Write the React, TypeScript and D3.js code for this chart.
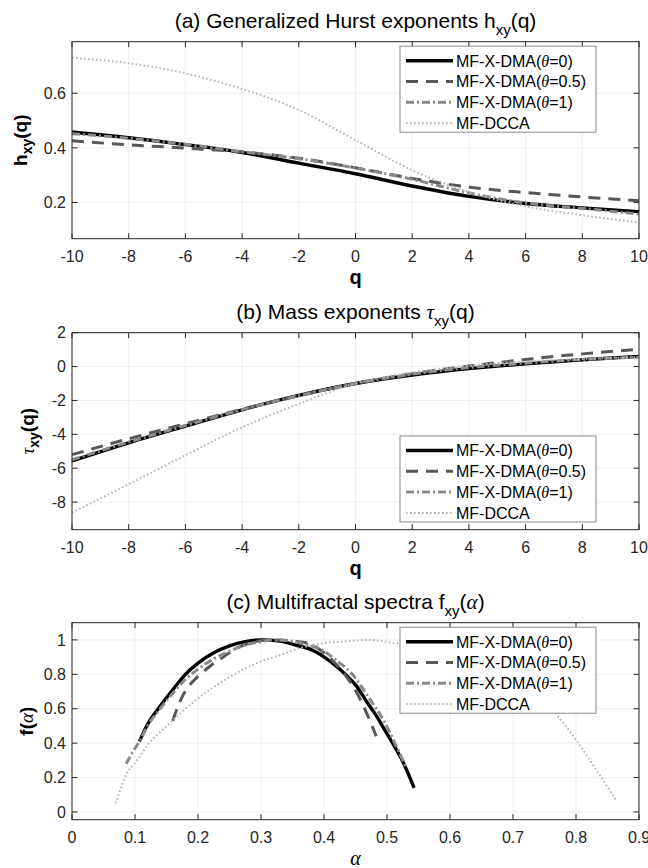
import React from "react";
import { scaleLinear, line, curveMonotoneX } from "d3";

// (a) + (b): q grid
const qValues = [-10, -8, -6, -4, -2, 0, 2, 4, 6, 8, 10];

// (a) generalized Hurst exponents h_xy(q)
const hDma0 = [0.458, 0.437, 0.412, 0.383, 0.344, 0.305, 0.26, 0.222, 0.196, 0.18, 0.166];
const hDma05 = [0.426, 0.411, 0.399, 0.385, 0.362, 0.327, 0.288, 0.256, 0.236, 0.22, 0.206];
const hDma1 = [0.452, 0.435, 0.413, 0.386, 0.36, 0.326, 0.285, 0.235, 0.198, 0.178, 0.157];
const hDcca = [0.73, 0.71, 0.673, 0.616, 0.539, 0.428, 0.318, 0.238, 0.186, 0.153, 0.126];

// (b) mass exponents tau_xy(q)
const tauDma0 = [-5.57, -4.5, -3.52, -2.55, -1.7, -1.0, -0.5, -0.12, 0.16, 0.4, 0.6];
const tauDma05 = [-5.2, -4.26, -3.38, -2.52, -1.72, -1.0, -0.42, 0.03, 0.42, 0.75, 1.02];
const tauDma1 = [-5.5, -4.46, -3.48, -2.54, -1.72, -1.0, -0.45, -0.06, 0.2, 0.42, 0.55];
const tauDcca = [-8.63, -6.94, -5.24, -3.58, -2.2, -1.0, -0.35, 0.06, 0.3, 0.45, 0.56];

// (c) multifractal spectra, (alpha, f) pairs
const alphaDma0 = [0.107, 0.12, 0.139, 0.16, 0.18, 0.2, 0.225, 0.25, 0.275, 0.3, 0.33, 0.355, 0.382, 0.41, 0.435, 0.452, 0.467, 0.483, 0.498, 0.512, 0.525, 0.543];
const fDma0 = [0.41, 0.51, 0.61, 0.71, 0.8, 0.865, 0.925, 0.965, 0.99, 1.0, 0.993, 0.97, 0.94, 0.875, 0.796, 0.73, 0.645, 0.56, 0.467, 0.38, 0.293, 0.14];
const alphaDma05 = [0.16, 0.17, 0.181, 0.195, 0.207, 0.22, 0.234, 0.25, 0.266, 0.285, 0.31, 0.335, 0.36, 0.382, 0.4, 0.42, 0.435, 0.451, 0.467, 0.483];
const fDma05 = [0.53, 0.63, 0.71, 0.77, 0.81, 0.85, 0.885, 0.925, 0.96, 0.985, 1.0, 0.998, 0.99, 0.97, 0.925, 0.855, 0.79, 0.7, 0.58, 0.44];
const alphaDma1 = [0.086, 0.095, 0.107, 0.12, 0.14, 0.16, 0.18, 0.2, 0.225, 0.25, 0.275, 0.3, 0.32, 0.345, 0.37, 0.395, 0.42, 0.445, 0.472, 0.495, 0.515, 0.53];
const fDma1 = [0.28, 0.34, 0.41, 0.5, 0.6, 0.69, 0.77, 0.83, 0.89, 0.935, 0.97, 0.99, 1.0, 0.995, 0.975, 0.945, 0.88, 0.8, 0.66, 0.53, 0.38, 0.26];
const alphaDcca = [0.069, 0.078, 0.086, 0.097, 0.107, 0.12, 0.139, 0.165, 0.2, 0.244, 0.3, 0.329, 0.36, 0.398, 0.44, 0.469, 0.517, 0.55, 0.6, 0.65, 0.7, 0.735, 0.766, 0.8, 0.832, 0.865];
const fDcca = [0.05, 0.14, 0.22, 0.27, 0.32, 0.39, 0.46, 0.55, 0.66, 0.77, 0.875, 0.91, 0.95, 0.98, 0.993, 1.0, 0.98, 0.97, 0.94, 0.89, 0.81, 0.72, 0.58, 0.42, 0.245, 0.06];

// legend
const thetaLabels = ["0", "0.5", "1"];
const dccaLabel = "MF-DCCA";

// ticks
const qTicks = [-10, -8, -6, -4, -2, 0, 2, 4, 6, 8, 10];
const hTicks = [0.2, 0.4, 0.6];
const tauTicks = [-8, -6, -4, -2, 0, 2];
const alphaTicks = [0, 0.1, 0.2, 0.3, 0.4, 0.5, 0.6, 0.7, 0.8, 0.9];
const fTicks = [0, 0.2, 0.4, 0.6, 0.8, 1];

const W = 648;
const H = 868;
const LEFT = 72;
const RIGHT = 639;
const PANEL_H = 197;
const FONT = "'Liberation Sans', Arial, Helvetica, sans-serif";
const TEX = "'Liberation Serif', 'DejaVu Serif', serif";
const INK = "#262626";

const lineStyles = [
  { stroke: "#000000", width: 3.4, dash: undefined },
  { stroke: "#575757", width: 3, dash: "12,8" },
  { stroke: "#8a8a8a", width: 3, dash: "8,3,2,3" },
  { stroke: "#b5b5b5", width: 2, dash: "1.6,2.4" },
];

const fmt = (v: number) => String(+v.toFixed(2));

// subscript followed by the rest of the text
function sub(s: string, size: number, shift: number, after: React.ReactNode) {
  return (
    <>
      <tspan dy={shift} fontSize={size}>{s}</tspan>
      <tspan dy={-shift}>{after}</tspan>
    </>
  );
}

function Legend({ top }: { top: number }) {
  const x0 = 400;
  const w = 196;
  const h = 86;
  const rows = [...thetaLabels, null];
  return (
    <g>
      <rect x={x0} y={top} width={w} height={h} fill="#fff" stroke="#8a8a8a" strokeWidth={1} />
      {rows.map((t, i) => {
        const cy = top + 14.5 + i * 20.8;
        const s = lineStyles[i];
        return (
          <g key={i}>
            <line x1={x0 + 6} x2={x0 + 53} y1={cy} y2={cy} stroke={s.stroke} strokeWidth={s.width} strokeDasharray={s.dash} />
            <text x={x0 + 56} y={cy + 5.8} fontSize={16} fontFamily={FONT} fill="#000">
              {t === null ? (
                dccaLabel
              ) : (
                <>
                  MF-X-DMA(
                  <tspan fontFamily={TEX} fontStyle="italic">θ</tspan>
                  ={t})
                </>
              )}
            </text>
          </g>
        );
      })}
    </g>
  );
}

type Curve = { xs: number[]; ys: number[] };

function Panel(props: {
  top: number;
  xDomain: [number, number];
  yDomain: [number, number];
  xTicks: number[];
  yTicks: number[];
  curves: Curve[];
  title: React.ReactNode;
  xLabel: React.ReactNode;
  yLabel: React.ReactNode;
  yLabelX: number;
  legendTop: number;
}) {
  const { top, xDomain, yDomain, xTicks, yTicks, curves } = props;
  const bottom = top + PANEL_H;
  const x = scaleLinear().domain(xDomain).range([LEFT, RIGHT]);
  const y = scaleLinear().domain(yDomain).range([bottom, top]);
  const path = line<[number, number]>()
    .x((d) => x(d[0]))
    .y((d) => y(d[1]))
    .curve(curveMonotoneX);
  const tick = 5.5;

  return (
    <g>
      {/* grid */}
      {xTicks.map((t) => (
        <line key={"gx" + t} x1={x(t)} x2={x(t)} y1={top} y2={bottom} stroke="#ebebeb" strokeWidth={0.8} />
      ))}
      {yTicks.map((t) => (
        <line key={"gy" + t} x1={LEFT} x2={RIGHT} y1={y(t)} y2={y(t)} stroke="#ebebeb" strokeWidth={0.8} />
      ))}

      {/* curves */}
      {curves.map((c, i) => (
        <path
          key={i}
          d={path(c.xs.map((v, j) => [v, c.ys[j]] as [number, number])) ?? ""}
          fill="none"
          stroke={lineStyles[i].stroke}
          strokeWidth={lineStyles[i].width}
          strokeDasharray={lineStyles[i].dash}
        />
      ))}

      {/* box + inward ticks */}
      <rect x={LEFT} y={top} width={RIGHT - LEFT} height={PANEL_H} fill="none" stroke={INK} strokeWidth={1} />
      {xTicks.map((t) => (
        <g key={"tx" + t} stroke={INK} strokeWidth={1}>
          <line x1={x(t)} x2={x(t)} y1={bottom} y2={bottom - tick} />
          <line x1={x(t)} x2={x(t)} y1={top} y2={top + tick} />
        </g>
      ))}
      {yTicks.map((t) => (
        <g key={"ty" + t} stroke={INK} strokeWidth={1}>
          <line x1={LEFT} x2={LEFT + tick} y1={y(t)} y2={y(t)} />
          <line x1={RIGHT} x2={RIGHT - tick} y1={y(t)} y2={y(t)} />
        </g>
      ))}

      {/* tick labels */}
      {xTicks.map((t) => (
        <text key={"lx" + t} x={x(t)} y={bottom + 23} textAnchor="middle" fontSize={16} fontFamily={FONT} fill={INK}>
          {fmt(t)}
        </text>
      ))}
      {yTicks.map((t) => (
        <text key={"ly" + t} x={LEFT - 6} y={y(t) + 5.7} textAnchor="end" fontSize={16} fontFamily={FONT} fill={INK}>
          {fmt(t)}
        </text>
      ))}

      {/* title */}
      <text x={(LEFT + RIGHT) / 2} y={top - 13.4} textAnchor="middle" fontSize={21} fontFamily={FONT} fill="#000">
        {props.title}
      </text>

      {/* axis labels */}
      <text x={(LEFT + RIGHT) / 2} y={bottom + 45} textAnchor="middle" fontSize={20} fontFamily={FONT} fontWeight="bold" fill="#000">
        {props.xLabel}
      </text>
      <text
        transform={`translate(${props.yLabelX},${(top + bottom) / 2}) rotate(-90)`}
        textAnchor="middle"
        fontSize={19}
        fontFamily={FONT}
        fontWeight="bold"
        fill="#000"
      >
        {props.yLabel}
      </text>

      <Legend top={top + props.legendTop} />
    </g>
  );
}

const tex = (s: string) => (
  <tspan fontFamily={TEX} fontStyle="italic" fontWeight="normal">{s}</tspan>
);

export default function App() {
  return (
    <svg width={W} height={H} style={{ position: "absolute", left: 0, top: 0, background: "#fff" }}>
      <rect width={W} height={H} fill="#fff" />
      <Panel
        top={41.7}
        xDomain={[-10, 10]}
        yDomain={[0.067, 0.789]}
        xTicks={qTicks}
        yTicks={hTicks}
        curves={[
          { xs: qValues, ys: hDma0 },
          { xs: qValues, ys: hDma05 },
          { xs: qValues, ys: hDma1 },
          { xs: qValues, ys: hDcca },
        ]}
        title={<>(a) Generalized Hurst exponents h{sub("xy", 15, 7, "(q)")}</>}
        xLabel="q"
        yLabel={<>h{sub("xy", 14, 5, "(q)")}</>}
        yLabelX={27}
        legendTop={4.5}
      />
      <Panel
        top={332.7}
        xDomain={[-10, 10]}
        yDomain={[-9.63, 2]}
        xTicks={qTicks}
        yTicks={tauTicks}
        curves={[
          { xs: qValues, ys: tauDma0 },
          { xs: qValues, ys: tauDma05 },
          { xs: qValues, ys: tauDma1 },
          { xs: qValues, ys: tauDcca },
        ]}
        title={<>(b) Mass exponents {tex("τ")}{sub("xy", 15, 7, "(q)")}</>}
        xLabel="q"
        yLabel={<>{tex("τ")}{sub("xy", 14, 5, "(q)")}</>}
        yLabelX={33.5}
        legendTop={103.3}
      />
      <Panel
        top={622.7}
        xDomain={[0, 0.9]}
        yDomain={[-0.045, 1.1]}
        xTicks={alphaTicks}
        yTicks={fTicks}
        curves={[
          { xs: alphaDma0, ys: fDma0 },
          { xs: alphaDma05, ys: fDma05 },
          { xs: alphaDma1, ys: fDma1 },
          { xs: alphaDcca, ys: fDcca },
        ]}
        title={<>(c) Multifractal spectra f{sub("xy", 15, 7, <>({tex("α")})</>)}</>}
        xLabel={tex("α")}
        yLabel={<>f({tex("α")})</>}
        yLabelX={33}
        legendTop={4.5}
      />
    </svg>
  );
}
